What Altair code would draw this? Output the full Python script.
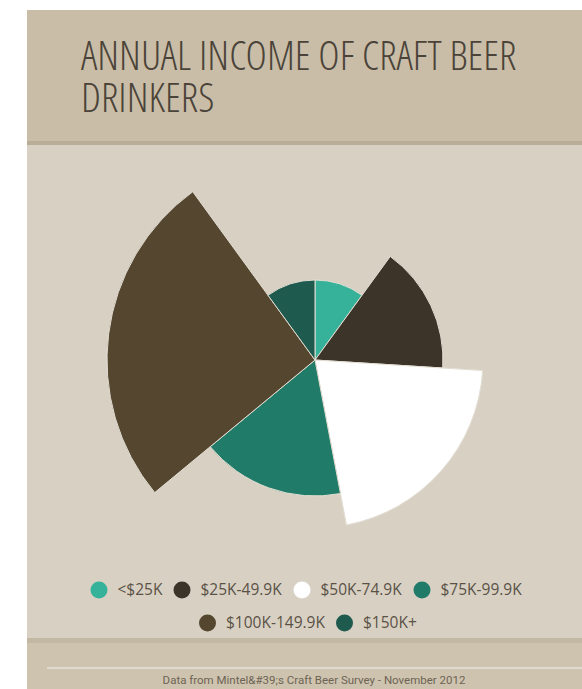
import altair as alt
import pandas as pd

# ---- data ----
brackets = ["<$25K", "$25K-49.9K", "$50K-74.9K", "$75K-99.9K", "$100K-149.9K", "$150K+"]
shares = [10, 16, 21, 17, 26, 10]
colors = ["#35b299", "#3d3429", "#ffffff", "#217b69", "#54462f", "#1f5a4f"]
title_lines = ["ANNUAL INCOME OF CRAFT BEER", "DRINKERS"]
source_text = "Data from Mintel&#39;s Craft Beer Survey - November 2012"

df = pd.DataFrame({"bracket": brackets, "share": shares, "idx": list(range(len(brackets)))})
one = pd.DataFrame({"k": [0]})

W, H = 555, 679
TOP_BAND = "#c9bda7"
MID = "#d8d1c3"
BOT_BAND = "#cec3ae"

legend_common = dict(
    orient="none", direction="horizontal", title=None, symbolType="circle",
    symbolSize=289, symbolStrokeWidth=0, labelFont="Open Sans", labelFontSize=15.5,
    labelColor="#5b5247", labelOffset=10, columnPadding=11,
)

color_scale = alt.Scale(domain=brackets, range=colors)

def arcs(values, lx, ly):
    return alt.Chart(df).mark_arc(
        stroke="#e2ddd2", strokeWidth=1, xOffset=10.5, yOffset=10.5
    ).encode(
        theta=alt.Theta("share:Q", stack=True),
        radius=alt.Radius("share:Q", scale=alt.Scale(type="linear", zero=True, nice=False, range=[0, 208])),
        color=alt.Color("bracket:N", scale=color_scale, sort=brackets,
                        legend=alt.Legend(values=values, legendX=lx, legendY=ly, **legend_common)),
        order=alt.Order("idx:Q"),
    )

def band(y0, y1, col):
    return alt.Chart(one).mark_rect(color=col).encode(
        x=alt.value(0), x2=alt.value(W), y=alt.value(y0), y2=alt.value(y1))

bot_line = alt.Chart(one).mark_rule(color="#e6e1d8", strokeWidth=1.5).encode(
    x=alt.value(20), x2=alt.value(W), y=alt.value(658))
source = alt.Chart(one).mark_text(
    font="Roboto", fontSize=11.5, color="#6d6355", align="center", baseline="alphabetic"
).encode(x=alt.value(287), y=alt.value(674), text=alt.value(source_text))

chart = alt.layer(
    band(0, H, MID),
    band(0, 131, TOP_BAND), band(131, 135, "#b9ad97"),
    band(628, 633, "#c3b8a3"), band(633, H, BOT_BAND),
    bot_line, source,
    arcs(brackets[:4], 63.5, 571.5),
    arcs(brackets[4:], 172, 604.5),
).resolve_scale(color="independent").properties(
    width=W, height=H,
    padding={"left": 27, "top": 10, "right": 0, "bottom": 0},
    autosize=alt.AutoSizeParams(type="none"),
    background="white",
    title=alt.Title(
        text=title_lines, font="Open Sans Condensed Light", fontSize=41, fontWeight=300,
        color="#4b4339", anchor="start", frame="group", orient="top", offset=0,
        baseline="alphabetic", lineHeight=42, dx=54, dy=143,
    ),
).configure_view(strokeWidth=0)

chart.save("out.html", embed_options={"renderer": "svg", "actions": False})
